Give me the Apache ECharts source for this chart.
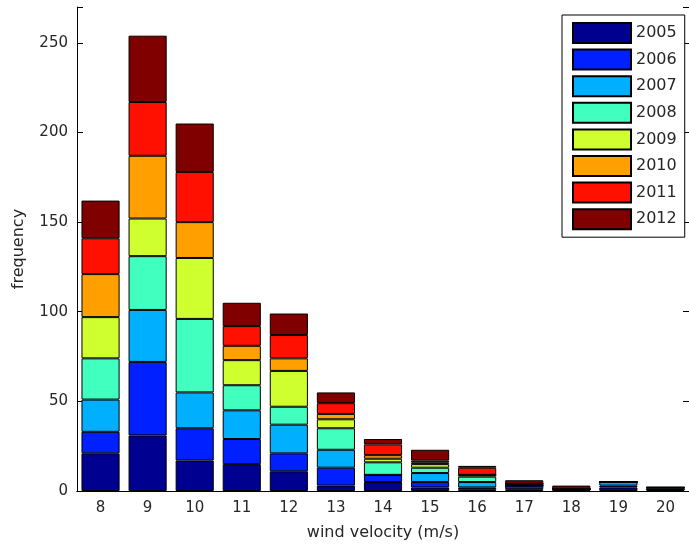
<!DOCTYPE html>
<html>
<head>
<meta charset="utf-8">
<script src="https://cdn.jsdelivr.net/npm/echarts@6/dist/echarts.min.js"></script>
<style>
html,body{margin:0;padding:0;background:#fff;}
#c{width:689px;height:546px;}
</style>
</head>
<body>
<div id="c"></div>
<script>
const categories = ['8','9','10','11','12','13','14','15','16','17','18','19','20'];
const years = ['2005','2006','2007','2008','2009','2010','2011','2012'];
const s2005 = [21, 31, 17, 15, 11, 3, 5, 2, 1, 1, 1, 2, 1];
const s2006 = [12, 41, 18, 14, 10, 10, 4, 3, 1, 2, 0, 1, 0];
const s2007 = [18, 29, 20, 16, 16, 10, 0, 5, 3, 0, 0, 2, 0];
const s2008 = [23, 30, 41, 14, 10, 12, 7, 3, 3, 0, 0, 0, 1];
const s2009 = [23, 21, 34, 14, 20, 5, 2, 2, 1, 1, 0, 0, 0];
const s2010 = [24, 35, 20, 8, 7, 3, 2, 1, 0, 0, 0, 0, 0];
const s2011 = [20, 30, 28, 11, 13, 6, 6, 1, 4, 0, 0, 0, 0];
const s2012 = [21, 37, 27, 13, 12, 6, 3, 6, 1, 2, 2, 0, 0];
const yTicks = [0, 50, 100, 150, 200, 250];
const seriesValues = [s2005, s2006, s2007, s2008, s2009, s2010, s2011, s2012];
const colors = ['#000090','#0020FF','#00B0FF','#40FFBF','#D0FF30','#FFA000','#FF1000','#800000'];

const chart = echarts.init(document.getElementById('c'), null, {renderer:'canvas'});
const font = 'DejaVu Sans, sans-serif';
const txt = '#262626';
chart.setOption({
  backgroundColor: '#ffffff',
  animation: false,
  color: colors,
  grid: {left: 77, top: 7, right: -5, bottom: 53, containLabel: false},
  legend: {
    orient: 'vertical',
    left: 562, top: 15,
    data: years,
    icon: 'rect',
    itemWidth: 58, itemHeight: 20, itemGap: 4.6,
    padding: [7, 8, 7, 10],
    borderColor: '#000', borderWidth: 1,
    backgroundColor: '#fff',
    textStyle: {fontFamily: font, fontSize: 16, color: txt, lineHeight: 20}
  },
  xAxis: [{
    type: 'category', data: categories, position: 'bottom',
    axisLine: {lineStyle: {color: '#000', width: 1}},
    axisTick: {inside: true, length: 6, alignWithLabel: true, lineStyle: {color: '#000'}},
    axisLabel: {fontFamily: font, fontSize: 15, color: txt, margin: 10},
    name: 'wind velocity (m/s)', nameLocation: 'middle', nameGap: 34,
    nameTextStyle: {fontFamily: font, fontSize: 16, color: txt}
  }, {
    type: 'category', data: categories, position: 'top',
    axisLine: {lineStyle: {color: '#000', width: 1}},
    axisTick: {inside: true, length: 6, alignWithLabel: true, lineStyle: {color: '#000'}},
    axisLabel: {show: false}
  }],
  yAxis: [{
    type: 'value', min: 0, max: 270, interval: 50, position: 'left',
    axisLine: {show: true, lineStyle: {color: '#000', width: 1}},
    axisTick: {show: true, inside: true, length: 6, lineStyle: {color: '#000'}},
    splitLine: {show: false},
    axisLabel: {fontFamily: font, fontSize: 15, color: txt, margin: 9,
      formatter: v => yTicks.indexOf(v) >= 0 ? String(v) : ''},
    name: 'frequency', nameLocation: 'middle', nameGap: 50,
    nameTextStyle: {fontFamily: font, fontSize: 16, color: txt}
  }, {
    type: 'value', min: 0, max: 270, interval: 50, position: 'right',
    axisLine: {show: true, lineStyle: {color: '#000', width: 1}},
    axisTick: {show: true, inside: true, length: 6, lineStyle: {color: '#000'}},
    splitLine: {show: false},
    axisLabel: {show: false}
  }],
  series: years.map((y, i) => ({
    name: y, type: 'bar', stack: 'total',
    xAxisIndex: 0, yAxisIndex: 0,
    barWidth: '81%',
    data: seriesValues[i],
    itemStyle: {color: colors[i], borderColor: '#000', borderWidth: 1}
  }))
});
</script>
</body>
</html>
